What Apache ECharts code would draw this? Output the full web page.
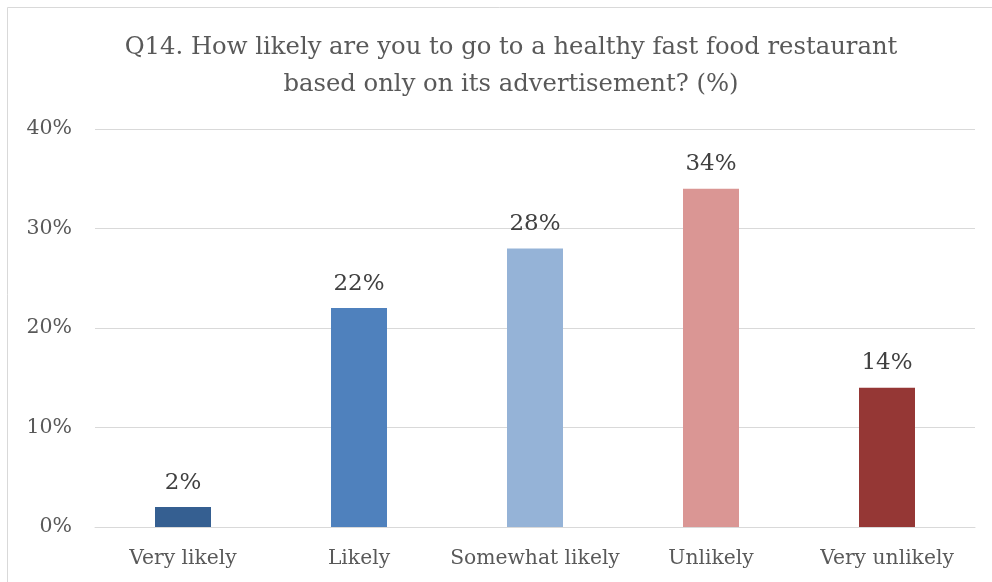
<!DOCTYPE html>
<html>
<head>
<meta charset="utf-8">
<script src="https://cdn.jsdelivr.net/npm/echarts@6/dist/echarts.min.js"></script>
<style>html,body{margin:0;padding:0;background:#fff}#c{width:992px;height:582px}</style>
</head>
<body>
<div id="c"></div>
<script>
const categories = ['Very likely', 'Likely', 'Somewhat likely', 'Unlikely', 'Very unlikely'];
const values = [2, 22, 28, 34, 14];
const barColors = ['#355F91', '#4F81BD', '#95B3D7', '#DA9694', '#953735'];
const yTicks = [0, 10, 20, 30, 40];
const titleText = 'Q14. How likely are you to go to a healthy fast food restaurant\nbased only on its advertisement? (%)';

const FONT = '"DejaVu Serif", serif';
const chart = echarts.init(document.getElementById('c'), null, {renderer: 'canvas'});
chart.setOption({
  animation: false,
  backgroundColor: '#fff',
  title: {
    text: titleText,
    left: 506,
    top: 24,
    textAlign: 'center',
    textStyle: {fontFamily: FONT, fontSize: 24.3, fontWeight: 'normal', color: '#595959', lineHeight: 37}
  },
  graphic: [{
    type: 'polyline',
    shape: {points: [[7.5, 582], [7.5, 7.5], [992, 7.5]]},
    style: {stroke: '#d9d9d9', lineWidth: 1, fill: null}
  }],
  grid: {left: 95, right: 17, top: 129, bottom: 55},
  xAxis: {
    type: 'category',
    data: categories,
    axisLine: {show: true, lineStyle: {color: '#d9d9d9', width: 1}},
    axisTick: {show: false},
    axisLabel: {interval: 0, fontFamily: FONT, fontSize: 20.3, color: '#595959', margin: 22}
  },
  yAxis: {
    type: 'value',
    min: yTicks[0],
    max: yTicks[yTicks.length - 1],
    interval: 10,
    axisLine: {show: false},
    axisTick: {show: false},
    splitLine: {lineStyle: {color: '#d9d9d9', width: 1}},
    axisLabel: {fontFamily: FONT, fontSize: 20.5, color: '#595959', margin: 23, formatter: '{value}%'}
  },
  series: [{
    type: 'bar',
    barWidth: 56,
    data: values.map((v, i) => ({value: v, itemStyle: {color: barColors[i]}})),
    label: {
      show: true,
      position: 'top',
      distance: 13,
      formatter: '{c}%',
      fontFamily: FONT,
      fontSize: 23,
      color: '#404040'
    }
  }]
});
</script>
</body>
</html>
